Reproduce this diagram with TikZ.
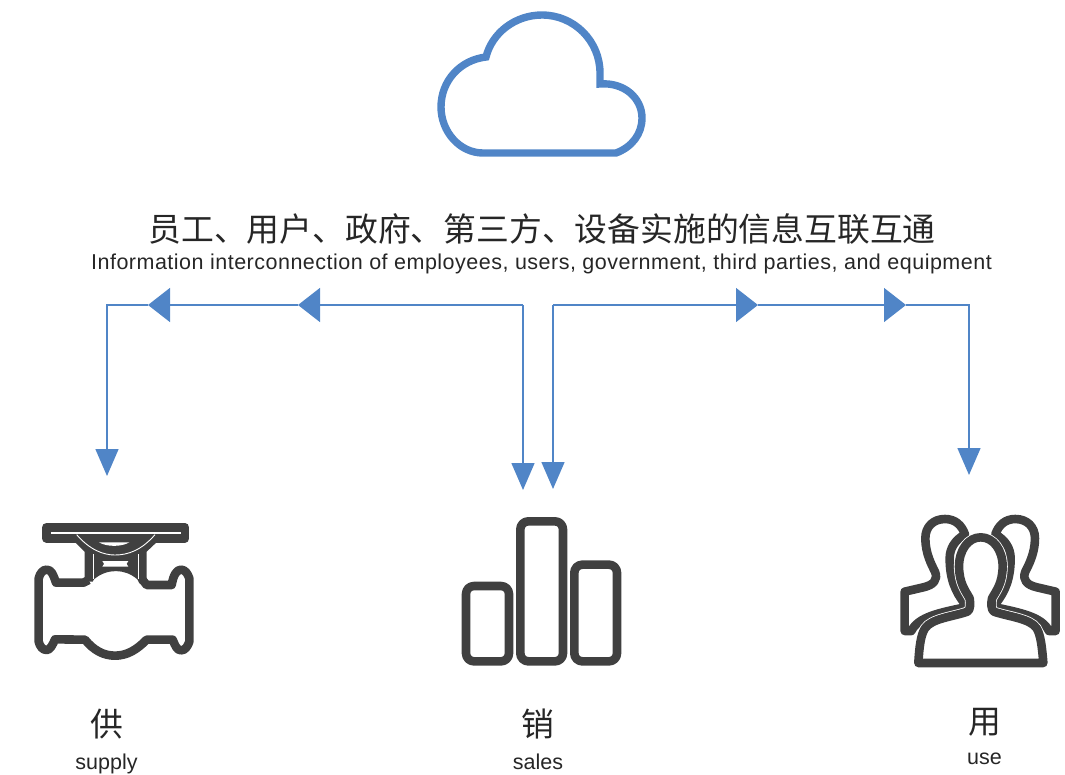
\documentclass[tikz,border=0pt]{standalone}
\usepackage{fontspec}
\setmainfont{Liberation Sans}
\newfontfamily\cjk{Noto Sans CJK SC}
\newfontfamily\spaced[LetterSpace=2.3]{Liberation Sans}
\usetikzlibrary{arrows.meta}
\definecolor{flowblue}{HTML}{5085C7}
\definecolor{icondark}{HTML}{404040}

\tikzset{
  flow/.style={draw=flowblue,line width=1.5pt,-{Triangle[length=27pt,width=23pt]}},
  midflow/.style={draw=flowblue,line width=1.5pt,-{Triangle[length=22pt,width=34pt]}},
  icon/.style={draw=icondark,line width=8.6pt,line join=round},
  gap/.style={draw=white,line width=0.9pt},
  cnlabel/.style={font=\cjk\fontsize{32.8}{36}\selectfont,text=black!85,inner sep=0pt},
  enlabel/.style={font=\fontsize{21.5}{24}\selectfont,text=black!85,inner sep=0pt}
}

\newcommand{\backperson}{
  \draw[icon] (44,275) -- (44,393) -- (64,393)
    .. controls (85,350) and (150,338) .. (225,322) -- (225,312)
    .. controls (195,275) and (179,235) .. (179,175)
    .. controls (179,145) and (195,120) .. (225,103)
    .. controls (215,75) and (195,57) .. (165,57)
    .. controls (130,57) and (106,80) .. (106,115)
    .. controls (106,160) and (125,195) .. (135,215)
    .. controls (145,240) and (130,255) .. (100,262) -- cycle;
}

\begin{document}
\begin{tikzpicture}[x=1pt,y=-1pt,node distance=40pt]
  \useasboundingbox (0,0) rectangle (1065,774);

  % cloud
  \draw[draw=flowblue,line width=7.4pt,line join=miter] (483,153) -- (616,153)
    .. controls (632,147) and (642,134) .. (642,118)
    .. controls (642,98) and (624,82) .. (600,84) -- (600,73)
    .. controls (600,41) and (574,15) .. (542,15)
    .. controls (515,15) and (492,33) .. (486,57)
    .. controls (460,60) and (441,81) .. (441,107)
    .. controls (441,132) and (460,153) .. (483,153) -- cycle;

  \node[cnlabel] (title) at (542,229) {员工、用户、政府、第三方、设备实施的信息互联互通};
  \node[enlabel] (subtitle) at (541.5,264) {\spaced Information interconnection of employees, users, government, third parties, and equipment};

  \coordinate (hubL) at (523,305);
  \coordinate (hubR) at (553,305);
  \coordinate (midL1) at (298,305);
  \coordinate (midL2) at (148,305);
  \coordinate (midR1) at (758,305);
  \coordinate (midR2) at (906,305);
  \coordinate (inSupply) at (107,476);
  \coordinate (inSalesL) at (523,490);
  \coordinate (inSalesR) at (553,489);
  \coordinate (inUse) at (969,475);

  \draw[midflow] (hubL) -- (midL1);
  \draw[midflow] (midL1) -- (midL2);
  \draw[flow] (midL2) -| (inSupply);
  \draw[flow] (hubL) -- (inSalesL);
  \draw[midflow] (hubR) -- (midR1);
  \draw[midflow] (midR1) -- (midR2);
  \draw[flow] (midR2) -| (inUse);
  \draw[flow] (hubR) -- (inSalesR);

  % valve
  \begin{scope}[shift={(20,500)},scale=1/3]
    \fill[icondark] (158,120) -- (194,155) -- (194,245) -- (218,245) -- (222,238)
      .. controls (260,205) and (315,205) .. (352,238) -- (358,250) -- (380,250) -- (380,155) -- (417,120) -- cycle;
    \draw[icon] (79,82) rectangle (495,115);
    \draw[icon] (368,240) -- (380,255) -- (455,255)
      .. controls (460,225) and (470,209) .. (483,209)
      .. controls (495,209) and (503,220) .. (508,235) -- (508,425)
      .. controls (503,440) and (495,451) .. (483,451)
      .. controls (470,451) and (465,435) .. (458,419) -- (380,419)
      .. controls (350,450) and (320,467) .. (285,467)
      .. controls (250,467) and (220,450) .. (195,419) -- (105,418)
      .. controls (98,435) and (90,450) .. (80,450)
      .. controls (68,450) and (60,440) .. (56,425) -- (56,235)
      .. controls (60,220) and (68,209) .. (80,209)
      .. controls (95,209) and (100,225) .. (108,248) -- (190,248) -- (206,240);
    \draw[gap] (170,104) .. controls (210,150) and (250,165) .. (285,165)
      .. controls (325,165) and (365,150) .. (405,104);
    \draw[gap] (221,162) -- (221,238) (354,162) -- (354,238);
    \fill[white] (237,127) -- (328,127) .. controls (305,141) and (260,141) .. cycle;
    \fill[white] (247,183) -- (325,183) .. controls (318,188) and (318,195) .. (325,200)
      -- (247,200) .. controls (254,195) and (254,188) .. cycle;
  \end{scope}

  % bars
  \begin{scope}[shift={(450,450)},scale=1/3]
    \draw[icon,rounded corners=8pt] (48,408) rectangle (177,634);
    \draw[icon,rounded corners=8pt] (211,214) rectangle (339,634);
    \draw[icon,rounded corners=8pt] (373,344) rectangle (501,634);
  \end{scope}

  % people
  \begin{scope}[shift={(890,500)},scale=1/3]
    \backperson
  \end{scope}
  \begin{scope}[shift={(1070.3,500)},xscale=-1/3,yscale=1/3]
    \backperson
  \end{scope}
  \begin{scope}[shift={(890,500)},scale=1/3]
    \path[preaction={draw=white,line width=10.2pt},icon,fill=white] (85,489)
      .. controls (88,440) and (92,405) .. (105,385)
      .. controls (125,355) and (190,350) .. (232,335)
      .. controls (242,330) and (241,310) .. (239,295)
      .. controls (225,270) and (208,250) .. (207,200)
      .. controls (207,150) and (235,112) .. (272,112)
      .. controls (310,112) and (338,150) .. (338,200)
      .. controls (337,250) and (320,270) .. (306,295)
      .. controls (303,310) and (303,330) .. (312,335)
      .. controls (355,350) and (420,355) .. (440,385)
      .. controls (452,405) and (456,440) .. (460,489) -- cycle;
  \end{scope}

  \node[cnlabel] (gong) at (106.5,724) {供};
  \node[enlabel] (supply) [below of=gong] {supply};
  \node[cnlabel] (xiao) at (538,724) {销};
  \node[enlabel] (sales) [below of=xiao,yshift=2pt] {sales};
  \node[cnlabel] (yong) at (984.5,722) {用};
  \node[enlabel] (use) [below of=yong,yshift=3pt] {use};

\end{tikzpicture}
\end{document}
